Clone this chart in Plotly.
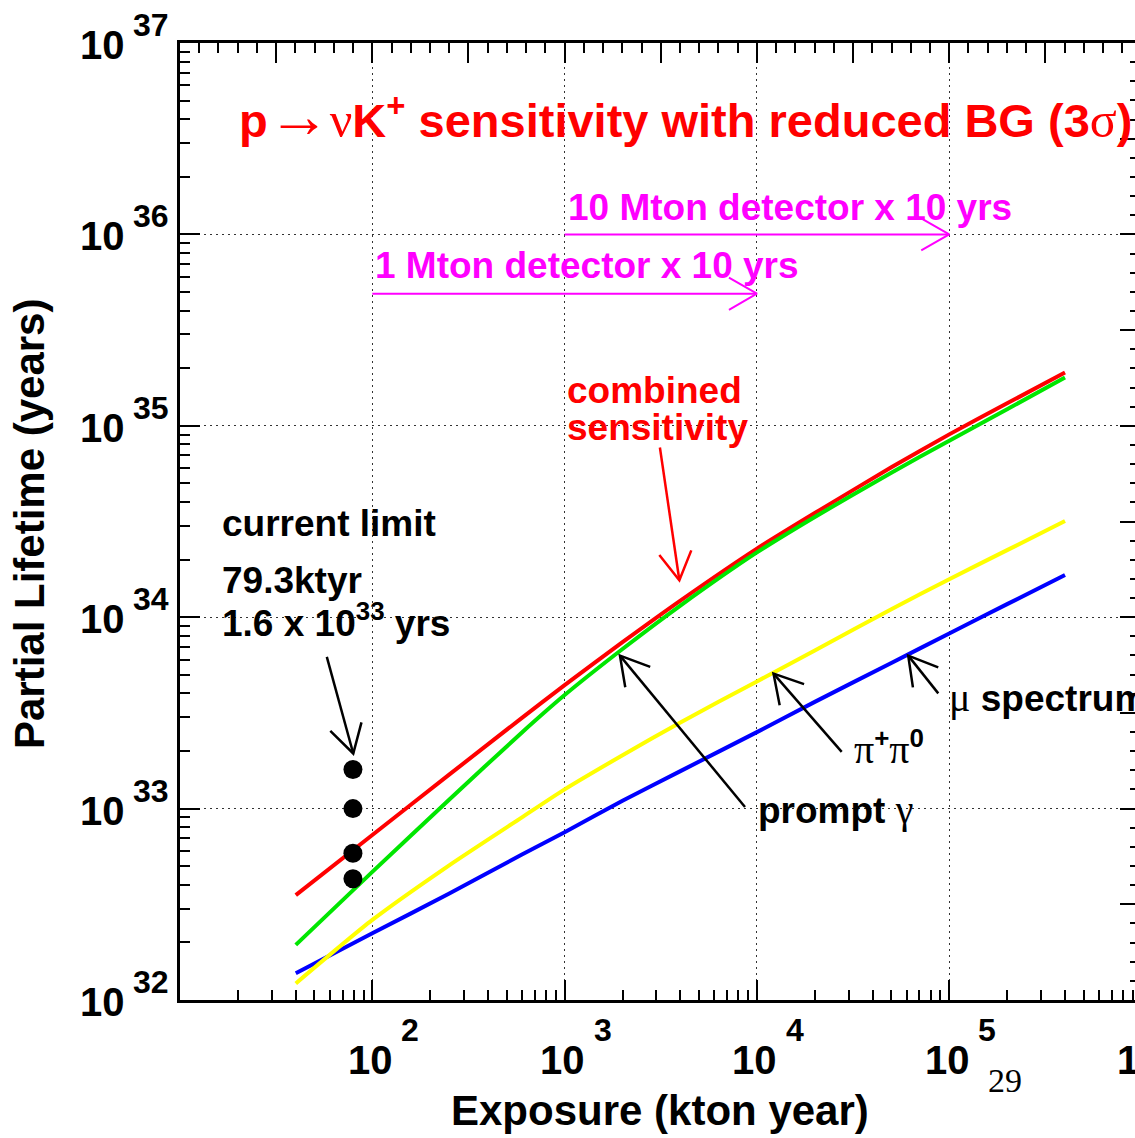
import math
import plotly.graph_objects as go

# ---------------- data ----------------
exposure = [40, 100, 250, 600, 1000, 2000, 4000, 1e4, 2e4, 5e4, 1e5, 2e5, 4e5]  # kton year
combined = [3.53e32, 7.28e32, 1.50e33, 2.98e33, 4.42e33, 7.40e33, 1.22e34, 2.28e34,
            3.50e34, 6.07e34, 9.02e34, 1.31e35, 1.90e35]
prompt_gamma = [1.94e32, 4.67e32, 1.11e33, 2.50e33, 3.92e33, 6.82e33, 1.15e34, 2.18e34,
                3.34e34, 5.69e34, 8.36e34, 1.22e35, 1.79e35]
pi_pi0 = [1.22e32, 2.62e32, 5.04e32, 9.0e32, 1.26e33, 1.90e33, 2.82e33, 4.62e33,
          6.70e33, 1.10e34, 1.58e34, 2.24e34, 3.18e34]
mu_spectrum = [1.38e32, 2.23e32, 3.59e32, 5.75e32, 7.52e32, 1.10e33, 1.57e33, 2.51e33,
               3.61e33, 5.77e33, 8.22e33, 1.17e34, 1.66e34]

limit_exposure = [79.3, 79.3, 79.3, 79.3]
limit_lifetime = [1.6e33, 1.0e33, 5.85e32, 4.3e32]

x_decades = [1, 2, 3, 4, 5]          # log10 of major x ticks in range
x_label_exps = [2, 3, 4, 5, 6]       # labelled x decades
y_decades = [32, 33, 34, 35, 36, 37]

# arrows: (tail, tip) in data units
arrow_1mton = ((1e2, 4.9e35), (1e4, 4.9e35))
arrow_10mton = ((1e3, 1e36), (1e5, 1e36))
arrow_combined = ((3130, 7.7e34), (3950, 1.56e34))
arrow_limit = ((58, 6.2e33), (79.6, 1.94e33))
arrow_prompt = ((8670, 1.02e33), (1940, 6.3e33))
arrow_pipi = ((27600, 1.98e33), (12200, 5.07e33))
arrow_mu = ((87700, 4.0e33), (61200, 6.3e33))

FONT = "Liberation Sans, Arial, Helvetica, sans-serif"
SERIF = "Liberation Serif"

XR = [1, 5.966]
YR = [32, 37]


def greek(ch, size=None):
    st = "font-family:%s;font-weight:normal" % SERIF
    if size:
        st += ";font-size:%dpx" % size
    return '<span style="%s">%s</span>' % (st, ch)


def arrow_xy(tail, tip, head=0.168, ang=30.0):
    lx0, ly0 = math.log10(tail[0]), math.log10(tail[1])
    lx1, ly1 = math.log10(tip[0]), math.log10(tip[1])
    dx, dy = lx0 - lx1, ly0 - ly1
    n = math.hypot(dx, dy)
    dx, dy = dx / n, dy / n
    xs, ys = [tail[0], tip[0], None], [tail[1], tip[1], None]
    arms = []
    for s in (1, -1):
        a = math.radians(ang * s)
        rx = dx * math.cos(a) - dy * math.sin(a)
        ry = dx * math.sin(a) + dy * math.cos(a)
        arms.append((10.0 ** (lx1 + head * rx), 10.0 ** (ly1 + head * ry)))
    xs += [arms[0][0], tip[0], arms[1][0]]
    ys += [arms[0][1], tip[1], arms[1][1]]
    return xs, ys


fig = go.Figure()

# curves
for vals, col in [(mu_spectrum, "#0000ff"), (pi_pi0, "#ffff00"),
                  (combined, "#ff0000"), (prompt_gamma, "#00e600")]:
    fig.add_trace(go.Scatter(x=exposure, y=vals, mode="lines",
                             line=dict(color=col, width=4, shape="spline", smoothing=0.6),
                             hoverinfo="skip"))

# arrows
for arr, col, w in [(arrow_1mton, "#ff00ff", 2), (arrow_10mton, "#ff00ff", 2),
                    (arrow_combined, "#ff0000", 2.5), (arrow_limit, "black", 2.5),
                    (arrow_prompt, "black", 2.5), (arrow_pipi, "black", 2.5),
                    (arrow_mu, "black", 2.5)]:
    xs, ys = arrow_xy(*arr)
    fig.add_trace(go.Scatter(x=xs, y=ys, mode="lines", line=dict(color=col, width=w),
                             hoverinfo="skip"))

# current limit points
fig.add_trace(go.Scatter(x=limit_exposure, y=limit_lifetime, mode="markers",
                         marker=dict(color="black", size=19), hoverinfo="skip"))

# helper trace for mirrored top/right axes
fig.add_trace(go.Scatter(x=[], y=[], xaxis="x2", yaxis="y2", hoverinfo="skip"))

x_minor = [m * 10.0 ** k for k in range(1, 6) for m in range(2, 10)]
y_minor = [m * 10.0 ** k for k in range(32, 37) for m in range(2, 10)]

fig.update_layout(
    width=1135, height=1138,
    margin=dict(l=180, r=0, t=43, b=138),
    plot_bgcolor="white", paper_bgcolor="white",
    showlegend=False,
    font=dict(family=FONT, color="black"),
    xaxis=dict(type="log", range=XR, tickmode="array",
               tickvals=[10.0 ** k for k in x_decades],
               ticks="inside", ticklen=20, tickwidth=1.5, tickcolor="black",
               showticklabels=False, showline=True, linewidth=3, linecolor="black",
               showgrid=True, gridcolor="#333333", gridwidth=1, griddash="2px,4px",
               zeroline=False,
               minor=dict(tickmode="array", tickvals=x_minor, ticks="inside", ticklen=10,
                          tickwidth=1.5, tickcolor="black", showgrid=False)),
    yaxis=dict(type="log", range=YR, tickmode="array",
               tickvals=[10.0 ** k for k in y_decades],
               ticks="inside", ticklen=20, tickwidth=1.5, tickcolor="black",
               showticklabels=False, showline=True, linewidth=3, linecolor="black",
               showgrid=True, gridcolor="#333333", gridwidth=1, griddash="2px,4px",
               zeroline=False,
               minor=dict(tickmode="array", tickvals=y_minor, ticks="inside", ticklen=10,
                          tickwidth=1.5, tickcolor="black", showgrid=False)),
    xaxis2=dict(overlaying="x", side="top", anchor="y", type="linear", range=XR,
                tickmode="linear", tick0=1, dtick=0.5, ticks="inside", ticklen=20,
                tickwidth=1.5, tickcolor="black", showticklabels=False,
                showline=True, linewidth=3, linecolor="black", showgrid=False,
                zeroline=False,
                minor=dict(tick0=1, dtick=0.1, ticks="inside", ticklen=10,
                           tickwidth=1.5, tickcolor="black", showgrid=False)),
    yaxis2=dict(overlaying="y", side="right", anchor="x", type="linear", range=YR,
                tickmode="linear", tick0=32, dtick=0.5, ticks="inside", ticklen=15,
                tickwidth=1.5, tickcolor="black", showticklabels=False,
                showline=False, showgrid=False, zeroline=False,
                minor=dict(tick0=32, dtick=0.1, ticks="inside", ticklen=5,
                           tickwidth=1.5, tickcolor="black", showgrid=False)),
)

ann = []


def txt(text, x, y, size, color="black", xanchor="left", yanchor="middle", xref="x",
        yref="y", xshift=0, yshift=0, angle=0, family=FONT, bold=True):
    ann.append(dict(text=text, x=x, y=y, xref=xref, yref=yref, xanchor=xanchor,
                    yanchor=yanchor, xshift=xshift, yshift=yshift, showarrow=False,
                    textangle=angle,
                    font=dict(family=family, size=size, color=color,
                              weight="bold" if bold else "normal")))


# tick labels (x in paper units so that the clipped 10^6 label is drawn too)
for e in x_label_exps:
    xp = (e - XR[0]) / (XR[1] - XR[0])
    txt("10", xp, 0, 40, xanchor="center", xref="paper", yref="paper", xshift=-2, yshift=-60)
    if xp <= 1:
        txt(str(e), xp, 0, 32, xanchor="left", xref="paper", yref="paper", xshift=27,
            yshift=-30)
for e in y_decades:
    txt("10", 0, e, 40, xanchor="right", xref="paper", yref="y", xshift=-53, yshift=-2)
    txt(str(e), 0, e, 32, xanchor="left", xref="paper", yref="y", xshift=-49, yshift=18)

# axis titles
txt("Exposure (kton year)", 0.5026, -0.115, 42, xanchor="center", xref="paper", yref="paper")
txt("Partial Lifetime (years)", -0.157, 0.4974, 42, xanchor="center", xref="paper",
    yref="paper", angle=-90)

# texts in the plot
txt("p" + greek("→", 62) + greek("ν", 50) + "K<sup>+</sup> sensitivity with reduced BG (3"
    + greek("σ", 50) + ")", 1.296, 36.621, 47, color="#ff0000")
txt("10 Mton detector x 10 yrs", 3.007, 36.138, 37, color="#ff00ff")
txt("1 Mton detector x 10 yrs", 2.004, 35.835, 37, color="#ff00ff")
txt("combined", 3.0, 35.187, 37, color="#ff0000")
txt("sensitivity", 3.0, 34.989, 37, color="#ff0000")
txt("current limit", 1.208, 34.487, 37)
txt("79.3ktyr", 1.208, 34.194, 37)
txt("1.6 x 10<sup>33</sup> yrs", 1.208, 33.985, 37)
txt(greek("μ", 40) + " spectrum", 4.989, 33.583, 37)
txt(greek("π", 40) + "<sup>+</sup>" + greek("π", 40) + "<sup>0</sup>", 4.494, 33.317, 37)
txt("prompt " + greek("γ", 40), 3.995, 32.993, 37)
txt("29", 0.8639, -0.0836, 34, xanchor="center", xref="paper", yref="paper",
    family="Liberation Serif, Times New Roman, serif", bold=False)

fig.update_layout(annotations=ann)
fig.write_html("out.html")
